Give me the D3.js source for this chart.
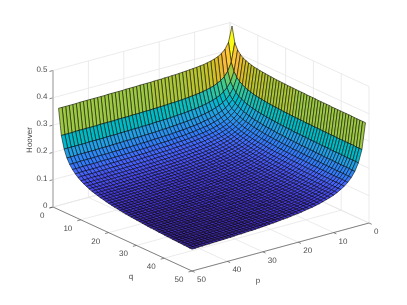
<!DOCTYPE html>
<html><head><meta charset="utf-8">
<script src="https://cdn.jsdelivr.net/npm/d3@7"></script>
<style>html,body{margin:0;padding:0;background:#fff}svg{display:block;position:absolute;left:0;top:0}#t{will-change:transform}text{font-family:"Liberation Sans",Arial,sans-serif;font-size:8px;fill:#4a4a4a;text-rendering:geometricPrecision}</style>
</head><body><svg id="c" width="407" height="305"></svg><svg id="t" width="407" height="305"></svg>
<script>
// Hoover value in thousandths. The surface is mirror-symmetric about its centre ridge,
// so each row holds the values from the diagonal outward: row n, entries n..50.
const hooverRows = [
[500,444,422,410,402,397,393,390,387,386,384,383,382,381,380,379,378,378,377,377,376,376,376,375,375,375,375,374,374,374,374,373,373,373,373,373,372,372,372,372,372,372,372,372,371,371,371,371,371,371],
[375,346,329,319,312,306,302,299,296,294,292,291,289,288,287,286,285,285,284,283,283,282,282,281,281,281,280,280,280,279,279,279,279,278,278,278,278,278,277,277,277,277,277,277,277,276,276,276,276],
[312,294,282,273,267,262,258,255,252,250,248,247,245,244,243,242,241,240,239,239,238,238,237,236,236,236,235,235,235,234,234,234,233,233,233,233,232,232,232,232,232,231,231,231,231,231,231,231],
[273,260,251,244,239,234,231,228,225,223,221,220,218,217,216,215,214,213,212,212,211,210,210,209,209,208,208,208,207,207,207,206,206,206,205,205,205,205,204,204,204,204,204,204,203,203,203],
[246,236,229,223,218,214,211,209,206,204,202,201,199,198,197,196,195,194,194,193,192,192,191,190,190,190,189,189,188,188,188,187,187,187,186,186,186,186,185,185,185,185,185,184,184,184],
[226,218,212,207,203,199,196,194,192,190,188,187,185,184,183,182,181,180,179,179,178,177,177,176,176,175,175,175,174,174,173,173,173,172,172,172,172,171,171,171,171,171,170,170,170],
[210,203,198,194,190,187,184,182,180,178,177,175,174,173,172,171,170,169,169,168,167,167,166,165,165,165,164,164,163,163,163,162,162,162,161,161,161,160,160,160,160,160,159,159],
[196,191,187,183,180,177,175,173,171,169,168,166,165,164,163,162,161,160,160,159,158,158,157,157,156,156,155,155,154,154,154,153,153,153,152,152,152,151,151,151,151,151,150],
[186,181,177,174,171,169,166,164,163,161,160,159,157,156,155,154,154,153,152,152,151,150,150,149,149,148,148,147,147,146,146,146,145,145,145,144,144,144,144,143,143,143],
[176,172,169,166,163,161,159,157,156,154,153,152,151,150,149,148,147,146,146,145,144,144,143,143,142,142,141,141,141,140,140,140,139,139,138,138,138,138,137,137,137],
[168,165,162,159,157,155,153,151,150,149,147,146,145,144,143,142,142,141,140,140,139,138,138,137,137,136,136,136,135,135,135,134,134,134,133,133,133,132,132,132],
[161,158,155,153,151,149,147,146,145,143,142,141,140,139,138,137,137,136,135,135,134,134,133,133,132,132,132,131,131,130,130,130,129,129,129,128,128,128,127],
[155,152,150,148,146,144,142,141,140,139,137,136,135,135,134,133,132,132,131,130,130,129,129,128,128,127,127,127,126,126,126,125,125,125,124,124,124,123],
[149,147,145,143,141,139,138,137,136,134,133,132,131,131,130,129,128,128,127,127,126,125,125,125,124,124,123,123,122,122,122,121,121,121,120,120,120],
[145,142,140,138,137,135,134,133,131,130,129,128,128,127,126,125,125,124,124,123,122,122,121,121,121,120,120,119,119,119,118,118,118,117,117,117],
[140,138,136,134,133,131,130,129,128,127,126,125,124,124,123,122,121,121,120,120,119,119,118,118,117,117,117,116,116,116,115,115,115,114,114],
[136,134,132,131,129,128,127,126,125,124,123,122,121,120,120,119,119,118,117,117,116,116,116,115,115,114,114,113,113,113,113,112,112,112],
[132,130,129,127,126,125,124,123,122,121,120,119,118,118,117,116,116,115,115,114,114,113,113,112,112,112,111,111,111,110,110,110,109],
[129,127,126,124,123,122,121,120,119,118,117,117,116,115,114,114,113,113,112,112,111,111,110,110,109,109,109,108,108,108,107,107],
[125,124,123,121,120,119,118,117,116,115,115,114,113,113,112,111,111,110,110,109,109,108,108,108,107,107,106,106,106,105,105],
[122,121,120,119,118,117,116,115,114,113,112,112,111,110,110,109,109,108,108,107,107,106,106,105,105,105,104,104,104,103],
[120,118,117,116,115,114,113,112,111,111,110,109,109,108,108,107,106,106,105,105,105,104,104,103,103,103,102,102,102],
[117,116,115,114,113,112,111,110,109,109,108,107,107,106,105,105,104,104,104,103,103,102,102,101,101,101,100,100],
[115,114,112,111,110,110,109,108,107,107,106,105,105,104,104,103,103,102,102,101,101,100,100,100,99,99,99],
[112,111,110,109,108,108,107,106,105,105,104,103,103,102,102,101,101,100,100,99,99,99,98,98,98,97],
[110,109,108,107,106,106,105,104,104,103,102,102,101,101,100,100,99,99,98,98,97,97,97,96,96],
[108,107,106,105,105,104,103,102,102,101,100,100,99,99,98,98,98,97,97,96,96,96,95,95],
[106,105,104,104,103,102,101,101,100,99,99,98,98,97,97,96,96,96,95,95,94,94,94],
[104,103,103,102,101,100,100,99,99,98,97,97,96,96,95,95,95,94,94,93,93,93],
[103,102,101,100,100,99,98,98,97,96,96,95,95,95,94,94,93,93,92,92,92],
[101,100,99,99,98,97,97,96,96,95,95,94,94,93,93,92,92,92,91,91],
[99,98,98,97,97,96,95,95,94,94,93,93,92,92,91,91,91,90,90],
[98,97,96,96,95,95,94,93,93,92,92,91,91,91,90,90,89,89],
[96,96,95,94,94,93,93,92,92,91,91,90,90,89,89,89,88],
[95,94,94,93,92,92,91,91,90,90,90,89,89,88,88,88],
[94,93,92,92,91,91,90,90,89,89,88,88,88,87,87],
[92,92,91,91,90,90,89,89,88,88,87,87,87,86],
[91,91,90,89,89,88,88,88,87,87,86,86,86],
[90,89,89,88,88,87,87,87,86,86,85,85],
[89,88,88,87,87,86,86,86,85,85,84],
[88,87,87,86,86,85,85,85,84,84],
[87,86,86,85,85,84,84,84,83],
[86,85,85,84,84,84,83,83],
[85,84,84,84,83,83,82],
[84,83,83,83,82,82],
[83,83,82,82,81],
[82,82,81,81],
[81,81,80],
[80,80]
];
const pValues = d3.range(1, 51);
const qValues = d3.range(2, 51);
const axisTicks = [0, 10, 20, 30, 40, 50];
const zTicks = [0, 0.1, 0.2, 0.3, 0.4, 0.5];
const parula = [[.2422,.1504,.6603],[.2504,.165,.7076],[.2578,.1818,.7511],[.2647,.1978,.7952],[.2706,.2147,.8364],[.2751,.2342,.871],[.2783,.2559,.8991],[.2803,.2782,.9221],[.2813,.3006,.9414],[.281,.3228,.9579],[.2795,.3447,.9717],[.276,.3667,.9829],[.2699,.3892,.9906],[.2602,.4123,.9952],[.244,.4358,.9988],[.2206,.4603,.9973],[.1963,.4847,.9892],[.1834,.5074,.9798],[.1786,.5289,.9682],[.1764,.5499,.952],[.1687,.5703,.9359],[.154,.5902,.9218],[.146,.6091,.9079],[.138,.6276,.8973],[.1248,.6459,.8883],[.1113,.6635,.8763],[.0952,.6798,.8598],[.0689,.6948,.8394],[.0297,.7082,.8163],[.0036,.7203,.7917],[.0067,.7312,.766],[.0433,.7411,.7394],[.0964,.75,.712],[.1408,.7584,.6842],[.1717,.767,.6554],[.1938,.7758,.6251],[.2161,.7843,.5923],[.247,.7918,.5567],[.2906,.7973,.5188],[.3406,.8008,.4789],[.3909,.8029,.4354],[.4456,.8024,.3909],[.5044,.7993,.348],[.5616,.7942,.3045],[.6174,.7876,.2612],[.672,.7793,.2227],[.7242,.7698,.191],[.7738,.7598,.1646],[.8203,.7498,.1535],[.8634,.7406,.1596],[.9035,.733,.1774],[.9393,.7288,.21],[.9728,.7298,.2394],[.9956,.7434,.2371],[.997,.7659,.2199],[.9952,.7861,.2028],[.9892,.8137,.1885],[.9786,.8386,.1766],[.9676,.8639,.1643],[.961,.889,.1537],[.9597,.9135,.1423],[.9628,.9373,.1265],[.9691,.9606,.1064],[.9769,.9839,.0805]]
  .map(c => d3.rgb(c[0]*255, c[1]*255, c[2]*255).formatHex());

function hoover(p, q) {
  const a = q - 1, lo = Math.min(p, a), hi = Math.max(p, a);
  return hooverRows[lo - 1][hi - lo] / 1000;
}

// Oblique projection of the box, expressed as linear scales per data axis
const X0 = 230, Y0 = 159;
const qX = d3.scaleLinear([0, 50], [0, 139]), qY = d3.scaleLinear([0, 50], [0, 64]);
const pX = d3.scaleLinear([0, 50], [0, -177]), pY = d3.scaleLinear([0, 50], [0, 48]);
const zY = d3.scaleLinear([0, 0.5], [0, -136.5]);
const proj = (p, q, z) => [X0 + pX(p) + qX(q), Y0 + pY(p) + qY(q) + zY(z)];
const line = d3.line();
const color = d3.scaleQuantize().domain([0.08, 0.5]).range(parula);

const svg = d3.select('#c');
const grid = svg.append('g').attr('fill', 'none').attr('stroke', '#e6e6e6').attr('stroke-width', 0.8);
const seg = (g, a, b) => g.append('path').attr('d', line([a, b]));

axisTicks.forEach(t => {
  seg(grid, proj(t, 0, 0), proj(t, 50, 0));   // floor
  seg(grid, proj(0, t, 0), proj(50, t, 0));
  seg(grid, proj(t, 0, 0), proj(t, 0, 0.5));  // wall q=0
  seg(grid, proj(0, t, 0), proj(0, t, 0.5));  // wall p=0
});
zTicks.forEach(z => {
  seg(grid, proj(0, 0, z), proj(50, 0, z));
  seg(grid, proj(0, 0, z), proj(0, 50, z));
});

// Axis lines and ticks
const ax = svg.append('g').attr('fill', 'none').attr('stroke', '#555').attr('stroke-width', 0.7);
seg(ax, proj(50, 0, 0), proj(50, 50, 0));
seg(ax, proj(0, 50, 0), proj(50, 50, 0));
axisTicks.forEach(t => {
  seg(ax, proj(50, t, 0), proj(51, t, 0));
  seg(ax, proj(t, 50, 0), proj(t, 51, 0));
});
svg.append('path').attr('d', line([proj(50, 0, 0), proj(50, 0, 0.5)]))
  .attr('stroke', '#bdbdbd').attr('stroke-width', 1.6).attr('fill', 'none');
zTicks.forEach(z => seg(ax, proj(50, 0, z), proj(51, 0, z)));

// Surface, back to front
const cells = [];
qValues.slice(0, -1).forEach(q => pValues.slice(0, -1).forEach(p => cells.push({p, q})));
svg.append('g').selectAll('path').data(cells).join('path')
  .attr('d', d => line([[d.p, d.q], [d.p + 1, d.q], [d.p + 1, d.q + 1], [d.p, d.q + 1]]
      .map(([p, q]) => proj(p, q, hoover(p, q)))) + 'Z')
  .attr('fill', d => color(hoover(d.p, d.q)))
  .attr('stroke', '#000').attr('stroke-width', 0.55);

// Labels
const labels = d3.select('#t');
const txt = (x, y, s, anchor) => labels.append('text').attr('x', x).attr('y', y).attr('text-anchor', anchor || 'middle').text(s);
zTicks.forEach(z => {
  const [x, y] = proj(50, 0, z);
  txt(x - 5.5, y + 1, String(z), 'end');
});
axisTicks.forEach(t => {
  const a = proj(50, t, 0), b = proj(t, 50, 0);
  txt(a[0] - 8.5, a[1] + 11, String(t), 'end');
  txt(b[0] + 5, b[1] + 11, String(t), 'start');
});
txt(131, 279, 'q');
txt(258, 283, 'p');
labels.append('text').attr('transform', 'translate(32,140) rotate(-90)').attr('text-anchor', 'middle').text('Hoover');
</script></body></html>
